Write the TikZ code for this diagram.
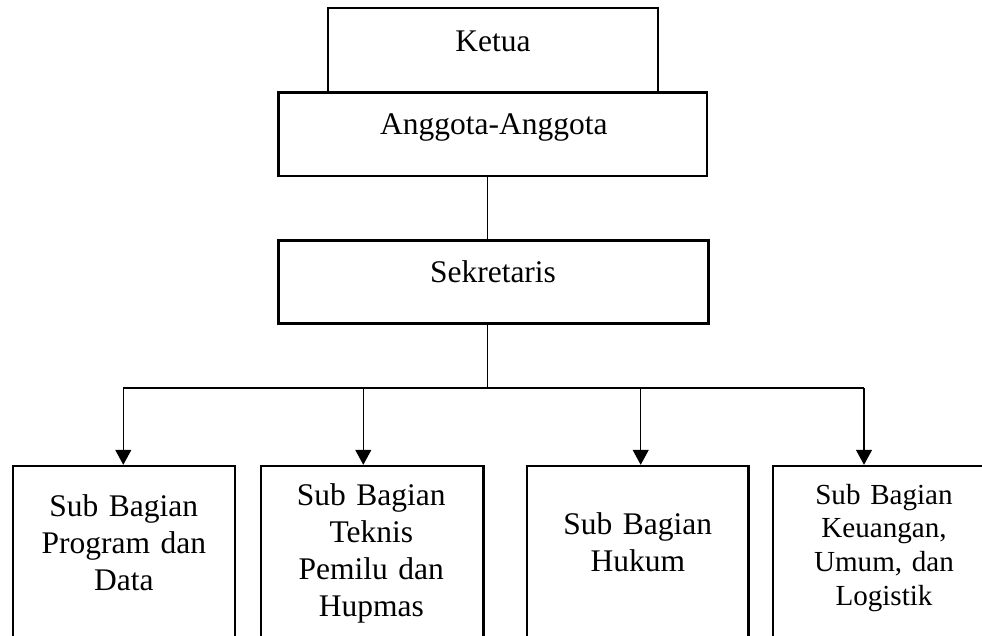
\documentclass[tikz,border=0pt]{standalone}
\usepackage{fontspec}
\setmainfont{Liberation Serif}
\usetikzlibrary{arrows.meta,fit}
\begin{document}
\begin{tikzpicture}[x=1pt,y=-1pt,
  box/.style={draw=black, line width=2.4pt, fill=white, inner sep=0pt},
  lbl/.style={inner sep=0pt, font=\fontsize{31.5}{37}\selectfont},
  lblsmall/.style={inner sep=0pt, font=\fontsize{29.1}{33.7}\selectfont},
  conn/.style={draw=black, line width=1.2pt},
  arr/.style={conn, -{Triangle[width=16pt,length=15pt]}}]
\useasboundingbox (0,0) rectangle (982,636);
\clip (0,0) rectangle (982,636);
% top boxes
\node[box, fit={(327.7,8.3) (657.7,92.7)}] (ketua) {};
\node[box, fit={(278.3,92.7) (706.7,176)}] (anggota) {};
\node[box, fit={(278.3,240.7) (708.3,323.3)}] (sekretaris) {};
\node[lbl, anchor=base] (tketua) at (493,51.7) {Ketua};
\node[lbl, anchor=base] (tanggota) at (493.8,135) {Anggota-Anggota};
\node[lbl, anchor=base] (tsekretaris) at (493,282.7) {Sekretaris};
% bottom boxes
\node[box, fit={(12.7,466) (235,720)}] (b1) {};
\node[box, fit={(261,466) (483.3,720)}] (b2) {};
\node[box, fit={(526.7,466) (748.3,720)}] (b3) {};
\node[box, fit={(772.7,466) (995.3,720)}] (b4) {};
\node[lbl, anchor=base, text width=215pt, align=center] (t1) at (123.8,516) {Sub Bagian\\Program dan\\Data};
\node[lbl, anchor=base, text width=215pt, align=center] (t2) at (371.3,505.7) {Sub Bagian\\Teknis\\Pemilu dan\\Hupmas};
\node[lbl, anchor=base, text width=215pt, align=center] (t3) at (637.8,534) {Sub Bagian\\Hukum};
\node[lblsmall, anchor=base, text width=215pt, align=center] (t4) at (884,504) {Sub Bagian\\Keuangan,\\Umum, dan\\Logistik};
% connectors
\coordinate (jn) at (487.5,388);
\coordinate (a1) at (123.3,388);
\coordinate (a2) at (363.3,388);
\coordinate (a3) at (640.7,388);
\coordinate (a4) at (864,388);
\draw[conn] (anggota.south -| jn) -- (sekretaris.north -| jn);
\draw[conn] (sekretaris.south -| jn) -- (jn);
\draw[conn] (a1) -- (a4);
\draw[arr] (a1) -- (b1.north -| a1);
\draw[arr] (a2) -- (b2.north -| a2);
\draw[arr] (a3) -- (b3.north -| a3);
\draw[arr] (a4) -- (b4.north -| a4);
\end{tikzpicture}
\end{document}
